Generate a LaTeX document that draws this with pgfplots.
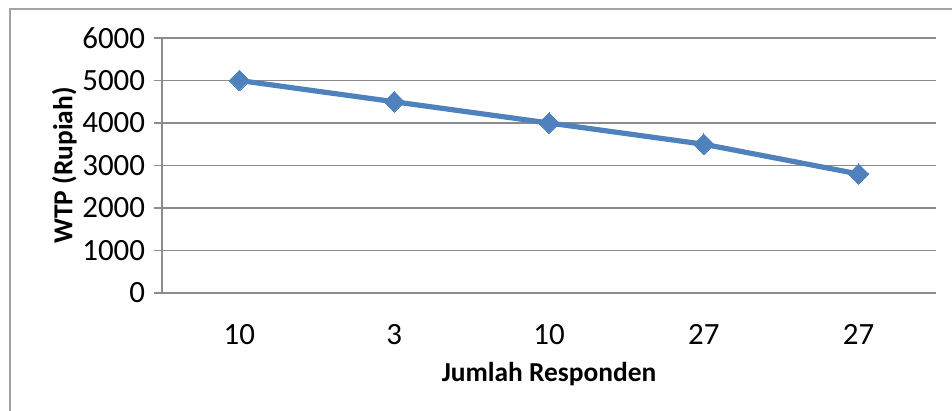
\documentclass[border=0pt]{standalone}
\usepackage{pgfplots}
\pgfplotsset{compat=1.18}
\usepackage{fontspec}
\setmainfont{Carlito}
\definecolor{exblue}{HTML}{4F81BD}
\definecolor{gridgray}{HTML}{8C8C8C}
\begin{document}
\begin{tikzpicture}
\useasboundingbox (0,0) rectangle (238mm,102.75mm);
\begin{scope}
\clip (0,0) rectangle (238mm,102.75mm);
\draw[color=gridgray!80,line width=0.4mm] (2.5mm,-2mm) rectangle (240mm,100.5mm);
\end{scope}
\begin{axis}[
  at={(40.5mm,29.5mm)}, anchor=south west,
  scale only axis, width=193.5mm, height=63.75mm,
  xmin=-0.5, xmax=4.5, ymin=0, ymax=6000,
  xtick={0,1,2,3,4}, xticklabels={10,3,10,27,27},
  ytick={0,1000,...,6000},
  axis x line*=bottom, axis y line*=left,
  axis line style={draw=gridgray, line width=0.4mm, -},
  ymajorgrids, xmajorgrids=false,
  y grid style={draw=gridgray, line width=0.4mm},
  major x tick style={draw=none},
  major y tick style={draw=gridgray, line width=0.4mm},
  tick align=outside, major tick length=2mm,
  ticklabel style={font=\fontsize{22}{24}\selectfont},
  /pgf/number format/assume math mode=true,
  /pgf/number format/set thousands separator={},
  yticklabel style={xshift=-1mm},
  xticklabel style={yshift=-4.5mm},
  xlabel={\bfseries Jumlah Responden},
  ylabel={\bfseries WTP (Rupiah)},
  label style={font=\fontsize{19.5}{22}\selectfont\bfseries},
  xlabel style={yshift=-2mm},
  ylabel style={yshift=-1mm},
  clip=false,
]
\addplot[color=exblue, line width=1.3mm, mark=square*, mark size=5.2pt,
  mark options={rotate=45, fill=exblue, draw=exblue, line width=0pt}]
  coordinates {(0,5000) (1,4500) (2,4000) (3,3500) (4,2800)};
\end{axis}
\end{tikzpicture}
\end{document}
